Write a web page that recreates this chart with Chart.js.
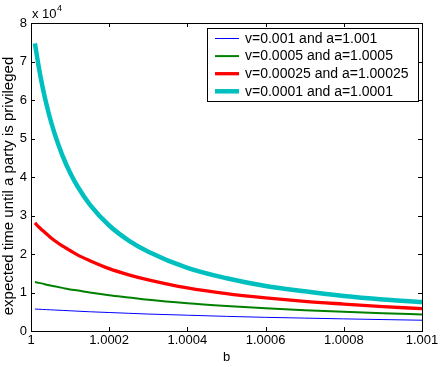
<!DOCTYPE html>
<html>
<head>
<meta charset="utf-8">
<script src="https://cdn.jsdelivr.net/npm/chart.js@4.4.0/dist/chart.umd.min.js"></script>
<style>
  html, body { margin: 0; padding: 0; background: #fff; }
</style>
</head>
<body>
<canvas id="chart" width="444" height="367"></canvas>
<script>
// values (y in units of 10^4)
const bValues = [1.00001, 1.00002, 1.00003, 1.00004, 1.00005, 1.00006, 1.00008, 1.0001, 1.00012, 1.00015,
  1.0002, 1.00025, 1.0003, 1.0004, 1.0005, 1.0006, 1.0007, 1.0008, 1.0009, 1.001];
const series001 = [0.57, 0.565, 0.56, 0.555, 0.55, 0.545, 0.535, 0.525, 0.515, 0.50,
  0.48, 0.46, 0.44, 0.41, 0.38, 0.355, 0.335, 0.315, 0.297, 0.28];
const series0005 = [1.27, 1.25, 1.23, 1.20, 1.18, 1.16, 1.12, 1.08, 1.05, 1.00,
  0.93, 0.87, 0.81, 0.72, 0.65, 0.59, 0.54, 0.50, 0.46, 0.43];
const series00025 = [2.81, 2.70, 2.61, 2.52, 2.43, 2.35, 2.21, 2.09, 1.97, 1.83,
  1.62, 1.46, 1.33, 1.12, 0.97, 0.86, 0.77, 0.70, 0.635, 0.58];
const series0001 = [7.47, 6.85, 6.32, 5.87, 5.48, 5.14, 4.57, 4.11, 3.74, 3.29,
  2.74, 2.35, 2.06, 1.64, 1.37, 1.17, 1.03, 0.91, 0.82, 0.75];
const seriesLabels = ['v=0.001 and a=1.001', 'v=0.0005 and a=1.0005', 'v=0.00025 and a=1.00025', 'v=0.0001 and a=1.0001'];
const xTicks = [1, 1.0002, 1.0004, 1.0006, 1.0008, 1.001];
const yTicks = [0, 1, 2, 3, 4, 5, 6, 7, 8];

const FONT = '"Liberation Sans", Arial, Helvetica, sans-serif';

function toPoints(values) {
  return bValues.map((b, i) => ({ x: b, y: values[i] }));
}

function makeDataset(label, values, color, width, order) {
  return {
    label,
    data: toPoints(values),
    borderColor: color,
    borderWidth: width,
    pointRadius: 0,
    fill: false,
    cubicInterpolationMode: 'monotone',
    order
  };
}

// frame with inward ticks on all four sides
const framePlugin = {
  id: 'frame',
  afterDatasetsDraw(chart) {
    const { ctx, chartArea: a, scales } = chart;
    const len = 4;
    ctx.save();
    ctx.strokeStyle = '#000';
    ctx.lineWidth = 1;
    ctx.beginPath();
    scales.x.ticks.forEach(t => {
      const px = Math.round(scales.x.getPixelForValue(t.value)) + 0.5;
      ctx.moveTo(px, a.bottom); ctx.lineTo(px, a.bottom - len);
      ctx.moveTo(px, a.top); ctx.lineTo(px, a.top + len);
    });
    scales.y.ticks.forEach(t => {
      const py = Math.round(scales.y.getPixelForValue(t.value)) + 0.5;
      ctx.moveTo(a.left, py); ctx.lineTo(a.left + len, py);
      ctx.moveTo(a.right, py); ctx.lineTo(a.right - len, py);
    });
    ctx.stroke();
    ctx.strokeRect(Math.round(a.left) + 0.5, Math.round(a.top) + 0.5,
      Math.round(a.right - a.left), Math.round(a.bottom - a.top));
    ctx.restore();
  }
};

// legend box in the upper right of the axes
const legendPlugin = {
  id: 'boxLegend',
  afterDraw(chart) {
    const { ctx } = chart;
    const box = { x: 207.5, y: 28.5, w: 211, h: 73 };
    ctx.save();
    ctx.fillStyle = '#fff';
    ctx.fillRect(box.x, box.y, box.w, box.h);
    ctx.strokeStyle = '#000';
    ctx.lineWidth = 1;
    ctx.strokeRect(box.x, box.y, box.w, box.h);
    ctx.font = '14px ' + FONT;
    ctx.textBaseline = 'middle';
    ctx.textAlign = 'left';
    chart.data.datasets.forEach((ds, i) => {
      const y = 38.5 + i * 17.6;
      ctx.strokeStyle = ds.borderColor;
      ctx.lineWidth = ds.borderWidth;
      ctx.beginPath();
      ctx.moveTo(215, y);
      ctx.lineTo(239, y);
      ctx.stroke();
      ctx.fillStyle = '#000';
      ctx.fillText(ds.label, 245, y + 0.5);
    });
    ctx.restore();
  }
};

// rotated y label and the "x 10^4" multiplier
const textPlugin = {
  id: 'extraText',
  afterDraw(chart) {
    const { ctx } = chart;
    ctx.save();
    ctx.fillStyle = '#000';
    ctx.font = '15px ' + FONT;
    ctx.translate(9, 186);
    ctx.rotate(-Math.PI / 2);
    ctx.textAlign = 'center';
    ctx.textBaseline = 'middle';
    ctx.fillText('expected time until a party is privileged', 0, 0);
    ctx.restore();

    ctx.save();
    ctx.fillStyle = '#000';
    ctx.textBaseline = 'alphabetic';
    ctx.font = '13px ' + FONT;
    ctx.fillText('x 10', 32, 18);
    const w = ctx.measureText('x 10').width;
    ctx.font = '9px ' + FONT;
    ctx.fillText('4', 32 + w + 0.5, 11);
    ctx.restore();
  }
};

function formatB(v) {
  return parseFloat(v.toFixed(4)).toString();
}

const ctx = document.getElementById('chart').getContext('2d');
new Chart(ctx, {
  type: 'line',
  data: {
    datasets: [
      makeDataset(seriesLabels[0], series001, '#0000ff', 1, 4),
      makeDataset(seriesLabels[1], series0005, '#008000', 2, 3),
      makeDataset(seriesLabels[2], series00025, '#ff0000', 3.3, 2),
      makeDataset(seriesLabels[3], series0001, '#00bfbf', 4.5, 1)
    ]
  },
  options: {
    responsive: false,
    animation: false,
    devicePixelRatio: 1,
    layout: { padding: { top: 23, right: 22, left: 0, bottom: 0 } },
    plugins: {
      legend: { display: false },
      tooltip: { enabled: false }
    },
    scales: {
      x: {
        type: 'linear',
        min: 1,
        max: 1.001,
        grid: { display: false, drawTicks: false },
        border: { display: false },
        afterBuildTicks: scale => { scale.ticks = xTicks.map(v => ({ value: v })); },
        ticks: {
          padding: 2,
          color: '#000',
          autoSkip: false,
          maxRotation: 0,
          font: { family: FONT, size: 13 },
          callback: v => formatB(v)
        },
        title: {
          display: true,
          text: 'b',
          color: '#000',
          font: { family: FONT, size: 13 },
          padding: { top: 0, bottom: 2 }
        },
        afterFit: scale => { scale.height = 36; scale.paddingLeft = 0; scale.paddingRight = 0; }
      },
      y: {
        min: 0,
        max: 8,
        grid: { display: false, drawTicks: false },
        border: { display: false },
        afterBuildTicks: scale => { scale.ticks = yTicks.map(v => ({ value: v })); },
        ticks: {
          padding: 4,
          color: '#000',
          font: { family: FONT, size: 13 }
        },
        afterFit: scale => { scale.width = 31; scale.paddingTop = 0; scale.paddingBottom = 0; }
      }
    }
  },
  plugins: [framePlugin, legendPlugin, textPlugin]
});
</script>
</body>
</html>
